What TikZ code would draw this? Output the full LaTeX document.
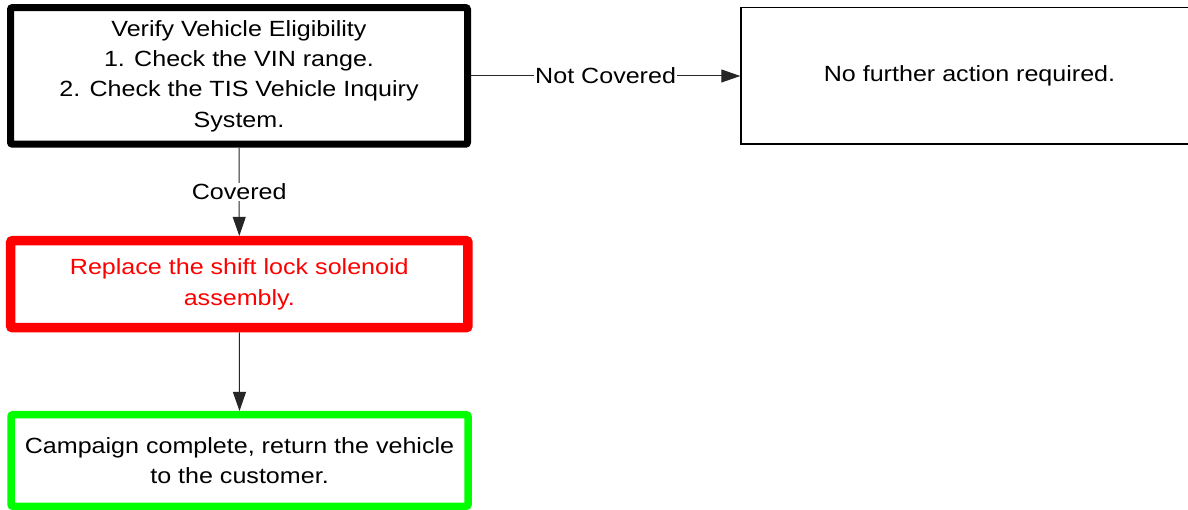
\documentclass[tikz,border=0pt]{standalone}
\usepackage{fontspec}
\setmainfont{Liberation Sans}[FakeStretch=1.14]
\usetikzlibrary{arrows.meta}
\definecolor{pred}{RGB}{255,0,0}
\definecolor{pgreen}{RGB}{0,255,0}
\begin{document}
\begin{tikzpicture}[x=1pt,y=-1pt,
  box/.style={draw, rectangle, align=center, inner sep=0pt, rounded corners=2pt,
    font=\fontsize{22}{30.3}\selectfont},
  conn/.style={draw=black!85, line width=1pt, -{Triangle[length=19pt,width=13pt]}},
  lbl/.style={fill=white, inner sep=1pt, font=\fontsize{22}{30}\selectfont}]
\clip (0,0) rectangle (1188,510);
\fill[white] (0,0) rectangle (1188,510);
\node[box, line width=7pt, minimum width=457pt, minimum height=136.7pt] (verify) at (239,75.9)
  {Verify Vehicle Eligibility\\1. Check the VIN range.\\2. Check the TIS Vehicle Inquiry\\System.};
\node[box, line width=1.5pt, rounded corners=0pt, minimum width=457pt, minimum height=136.5pt] (nofurther) at (969.5,76)
  {No further action required.};
\node[box, draw=pred, text=pred, line width=9.5pt, minimum width=457.3pt, minimum height=87.1pt] (replace) at (239.3,284.2)
  {Replace the shift lock solenoid\\assembly.};
\node[box, draw=pgreen, line width=7.5pt, minimum width=457pt, minimum height=91.6pt] (complete) at (239.5,460.5)
  {Campaign complete, return the vehicle\\to the customer.};
\draw[conn] (verify.east |- 0,76) -- node[lbl]{Not Covered} (nofurther.west |- 0,76);
\draw[conn] (verify.south) -- node[lbl, pos=0.5]{Covered} (replace.north);
\draw[conn] (replace.south) -- (complete.north);
\end{tikzpicture}
\end{document}
